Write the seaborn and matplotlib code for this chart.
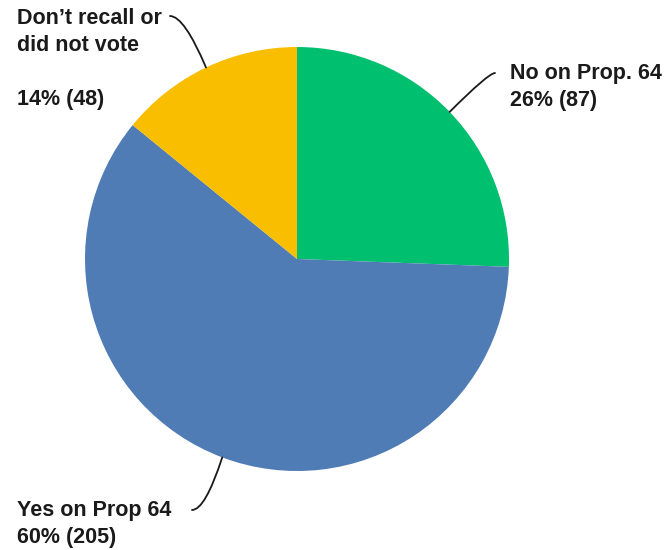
import numpy as np
import matplotlib
matplotlib.use("Agg")
import matplotlib.pyplot as plt
import seaborn as sns

# Survey answers, clockwise from 12 o'clock
labels = ["No on Prop. 64", "Yes on Prop 64", "Don\u2019t recall or\ndid not vote"]
counts = [87, 205, 48]
colors = ["#00BF6F", "#507CB6", "#F9BE00"]

sns.set_theme(style="white")
plt.rcParams["font.family"] = ["Liberation Sans", "DejaVu Sans"]

W, H = 668, 550
fig = plt.figure(figsize=(W / 100, H / 100), dpi=100)
ax = fig.add_axes([0, 0, 1, 1])

cx, cy, r = 297, H - 259, 212
wedges, _ = ax.pie(counts, colors=colors, startangle=90, counterclock=False,
                   center=(cx, cy), radius=r, frame=True,
                   wedgeprops=dict(linewidth=0))
ax.set_xlim(0, W)
ax.set_ylim(0, H)
ax.set_aspect("equal")
ax.axis("off")

total = sum(counts)
pcts = [f"{round(c / total * 100)}% ({c})" for c in counts]

def edge_point(w):
    mid = np.deg2rad((w.theta1 + w.theta2) / 2)
    return cx + r * np.cos(mid), cy + r * np.sin(mid)

txt = dict(fontsize=15.5, fontweight="bold", color="#1a1a1a",
           ha="left", va="baseline")
line = dict(arrowstyle="-", color="#1a1a1a", lw=1.3, shrinkA=0, shrinkB=0)

def block(x, y0, lines, step=27):
    for i, s in enumerate(lines):
        if s:
            ax.text(x, H - (y0 + i * step), s, **txt)

# No on Prop. 64
block(510, 79, [labels[0], pcts[0]])
ax.annotate("", xy=edge_point(wedges[0]), xytext=(495, H - 73),
            arrowprops=dict(connectionstyle="angle3,angleA=0,angleB=45", **line))

# Yes on Prop 64
block(17, 516, [labels[1], pcts[1]])
ax.annotate("", xy=edge_point(wedges[1]), xytext=(192, H - 510),
            arrowprops=dict(connectionstyle="angle3,angleA=0,angleB=72", **line))

# Don't recall
block(17, 24, labels[2].split("\n") + ["", pcts[2]])
ax.annotate("", xy=edge_point(wedges[2]), xytext=(170, H - 16),
            arrowprops=dict(connectionstyle="angle3,angleA=0,angleB=113", **line))

fig.savefig("out.png", dpi=100)
